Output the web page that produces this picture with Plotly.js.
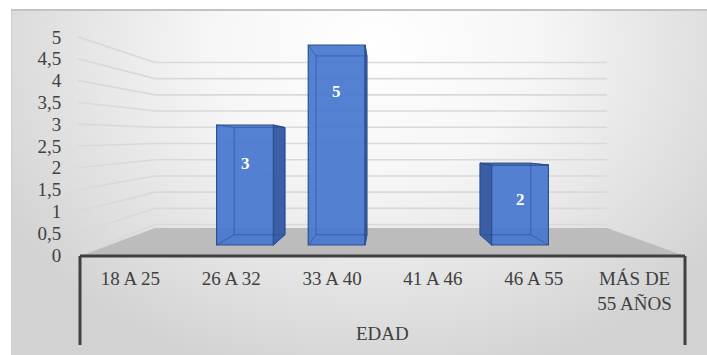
<!DOCTYPE html>
<html>
<head>
<meta charset="utf-8">
<script src="https://cdn.plot.ly/plotly-3.0.1.min.js"></script>
<style>
  html, body { margin: 0; padding: 0; background: #ffffff; }
  #wrap { position: relative; width: 707px; height: 355px; overflow: hidden; }
  #bg {
    position: absolute; left: 11px; top: 9px; width: 696px; height: 346px;
    box-sizing: border-box;
    background: radial-gradient(ellipse 62% 100% at 52% 10%, #ffffff 0%, #f6f6f6 38%, #d2d2d2 100%);
    border-top: 2px solid #c3c3c3; border-left: 1px solid #cfcfcf;
  }
  #chart { position: absolute; left: 0; top: 0; width: 707px; height: 355px; }
</style>
</head>
<body>
<div id="wrap"><div id="bg"></div><div id="chart"></div></div>
<script>
// ---- data ----
const categories = ['18 A 25', '26 A 32', '33 A 40', '41 A 46', '46 A 55', 'MÁS DE<br>55 AÑOS'];
const counts = [0, 3, 5, 0, 2, 0];
const axisTitle = 'EDAD';
const yTickVals = [0, 0.5, 1, 1.5, 2, 2.5, 3, 3.5, 4, 4.5, 5];
const yTickText = yTickVals.map(v => String(v).replace('.', ','));

// ---- geometry of the 3-D box (pixels) ----
const W = 707, H = 355;
const M = { l: 80, r: 22, t: 30, b: 98 };
const PX_L = M.l, PX_R = W - M.r, PY_T = M.t, PY_B = H - M.b;
const px2x = px => (px - PX_L) / (PX_R - PX_L);
const py2y = py => (PY_B - py) / (PY_B - PY_T);

const WALL_ZERO = 259, WALL_UNIT = 44.4;       // left wall front edge scale
const BACK_ZERO = 228, BACK_UNIT = 33;         // back wall scale
const WALL_X0 = 78, BACK_X0 = 155, BACK_X1 = 607;
const FLOOR_FRONT_Y = 256, FLOOR_L = 80, FLOOR_R = 685;
const FRAME_BOTTOM = 345;

// bar plane (part way into the floor)
const BAR_X0 = 107.5, BAR_X1 = 657.5, BAR_ZERO = 245, BAR_UNIT = 40;
const VANISH_Y = 148, DEPTH = 0.894, BAR_W = 0.62;
const CX = (categories.length - 1) / 2;
const CY = (BAR_ZERO - VANISH_Y) / BAR_UNIT;
const back = (x, y) => [CX + (x - CX) * DEPTH, CY + (y - CY) * DEPTH];

const SERIF = '"Liberation Serif", "Times New Roman", serif';
const TEXT = '#404040';
const FRONT = 'rgba(72,119,208,0.93)';
const SIDE = '#3b5fa6';
const EDGE = '#2c4f8e';

// ---- traces ----
const traces = [];
const barX = [], barY = [];
counts.forEach((v, i) => {
  if (!(v > 0)) return;
  barX.push(i); barY.push(v);
  const xl = i - BAR_W / 2, xr = i + BAR_W / 2;
  const sx = i < CX ? xr : xl;                 // visible side face
  const b0 = back(sx, 0), b1 = back(sx, v);
  traces.push({
    type: 'scatter', mode: 'lines', xaxis: 'x2', yaxis: 'y2',
    x: [sx, sx, b1[0], b0[0], sx], y: [0, v, b1[1], b0[1], 0],
    fill: 'toself', fillcolor: SIDE, line: { color: EDGE, width: 1 },
    hoverinfo: 'skip', showlegend: false
  });
  if (v < CY) {                                // top face visible below eye level
    const tl = back(xl, v), tr = back(xr, v);
    traces.push({
      type: 'scatter', mode: 'lines', xaxis: 'x2', yaxis: 'y2',
      x: [xl, xr, tr[0], tl[0], xl], y: [v, v, tr[1], tl[1], v],
      fill: 'toself', fillcolor: '#5a88d6', line: { color: EDGE, width: 1 },
      hoverinfo: 'skip', showlegend: false
    });
  }
  // hidden edges seen through the translucent front face
  const p = [back(xl, 0), back(xr, 0), back(xr, v), back(xl, v)];
  const ex = [p[0][0], p[1][0], p[2][0], p[3][0], p[0][0], null,
              xl, p[0][0], null, xr, p[1][0], null, xr, p[2][0], null, xl, p[3][0]];
  const ey = [p[0][1], p[1][1], p[2][1], p[3][1], p[0][1], null,
              0, p[0][1], null, 0, p[1][1], null, v, p[2][1], null, v, p[3][1]];
  traces.push({
    type: 'scatter', mode: 'lines', xaxis: 'x2', yaxis: 'y2',
    x: ex, y: ey, line: { color: 'rgba(40,72,140,0.55)', width: 1 },
    hoverinfo: 'skip', showlegend: false, connectgaps: false
  });
});
traces.unshift({
  type: 'bar', xaxis: 'x2', yaxis: 'y2',
  x: barX, y: barY, width: BAR_W,
  marker: { color: FRONT, line: { color: EDGE, width: 1.2 } },
  hoverinfo: 'skip', showlegend: false
});

// ---- shapes: walls, floor, frame ----
const shapes = [];
yTickVals.forEach(v => {
  const yBack = (WALL_ZERO - (BACK_ZERO - BACK_UNIT * v)) / WALL_UNIT;
  shapes.push({ type: 'line', layer: 'below', xref: 'paper', yref: 'y',
    x0: px2x(WALL_X0), x1: px2x(BACK_X0), y0: v, y1: yBack,
    line: { color: '#d9d9d9', width: 1.6 } });
  shapes.push({ type: 'line', layer: 'below', xref: 'paper', yref: 'y',
    x0: px2x(BACK_X0), x1: px2x(BACK_X1), y0: yBack, y1: yBack,
    line: { color: '#d9d9d9', width: 1.6 } });
});
shapes.push({ type: 'path', layer: 'below', xref: 'paper', yref: 'paper',
  path: `M${px2x(FLOOR_L)},${py2y(FLOOR_FRONT_Y)} L${px2x(BACK_X0)},${py2y(BACK_ZERO)} ` +
        `L${px2x(BACK_X1)},${py2y(BACK_ZERO)} L${px2x(FLOOR_R)},${py2y(FLOOR_FRONT_Y)} Z`,
  fillcolor: '#bcbcbc', line: { width: 0 } });
[[FLOOR_L, FLOOR_FRONT_Y, FLOOR_R, FLOOR_FRONT_Y],
 [FLOOR_L, FLOOR_FRONT_Y, FLOOR_L, FRAME_BOTTOM],
 [FLOOR_R, FLOOR_FRONT_Y, FLOOR_R, FRAME_BOTTOM]].forEach(s => {
  shapes.push({ type: 'line', layer: 'above', xref: 'paper', yref: 'paper',
    x0: px2x(s[0]), y0: py2y(s[1]), x1: px2x(s[2]), y1: py2y(s[3]),
    line: { color: '#404040', width: 3 } });
});

// ---- value labels ----
const annotations = counts.map((v, i) => v > 0 ? {
  xref: 'x2', yref: 'y2', x: i, y: 0.9 * v - 0.65, text: '<b>' + v + '</b>',
  showarrow: false, font: { family: SERIF, size: 17, color: '#ffffff' }
} : null).filter(Boolean);
annotations.push({
  xref: 'paper', yref: 'paper', x: 0.5, y: py2y(333), yanchor: 'middle',
  text: axisTitle, showarrow: false, font: { family: SERIF, size: 19, color: TEXT }
});

const layout = {
  width: W, height: H, margin: M,
  paper_bgcolor: 'rgba(0,0,0,0)', plot_bgcolor: 'rgba(0,0,0,0)',
  showlegend: false,
  font: { family: SERIF, size: 19, color: TEXT },
  xaxis: {
    range: [-0.5, categories.length - 0.5], tickmode: 'array',
    tickvals: categories.map((c, i) => i), ticktext: categories,
    showgrid: false, zeroline: false, showline: false,
    ticks: 'outside', ticklen: 4, tickcolor: 'rgba(0,0,0,0)',
    tickfont: { family: SERIF, size: 19, color: TEXT }, fixedrange: true
  },
  yaxis: {
    range: [(PY_B - WALL_ZERO) / WALL_UNIT, (WALL_ZERO - PY_T) / WALL_UNIT],
    tickmode: 'array', tickvals: yTickVals, ticktext: yTickText,
    showgrid: false, zeroline: false, showline: false,
    ticks: 'outside', ticklen: 14, tickcolor: 'rgba(0,0,0,0)',
    tickfont: { family: SERIF, size: 19, color: TEXT }, fixedrange: true
  },
  xaxis2: {
    domain: [px2x(BAR_X0), px2x(BAR_X1)], anchor: 'y2',
    range: [-0.5, categories.length - 0.5], visible: false, fixedrange: true
  },
  yaxis2: {
    domain: [0, 1], anchor: 'x2',
    range: [-(PY_B - BAR_ZERO) / BAR_UNIT, (BAR_ZERO - PY_T) / BAR_UNIT],
    visible: false, fixedrange: true
  },
  shapes: shapes,
  annotations: annotations
};

Plotly.newPlot('chart', traces, layout, { displayModeBar: false, staticPlot: true });
</script>
</body>
</html>
